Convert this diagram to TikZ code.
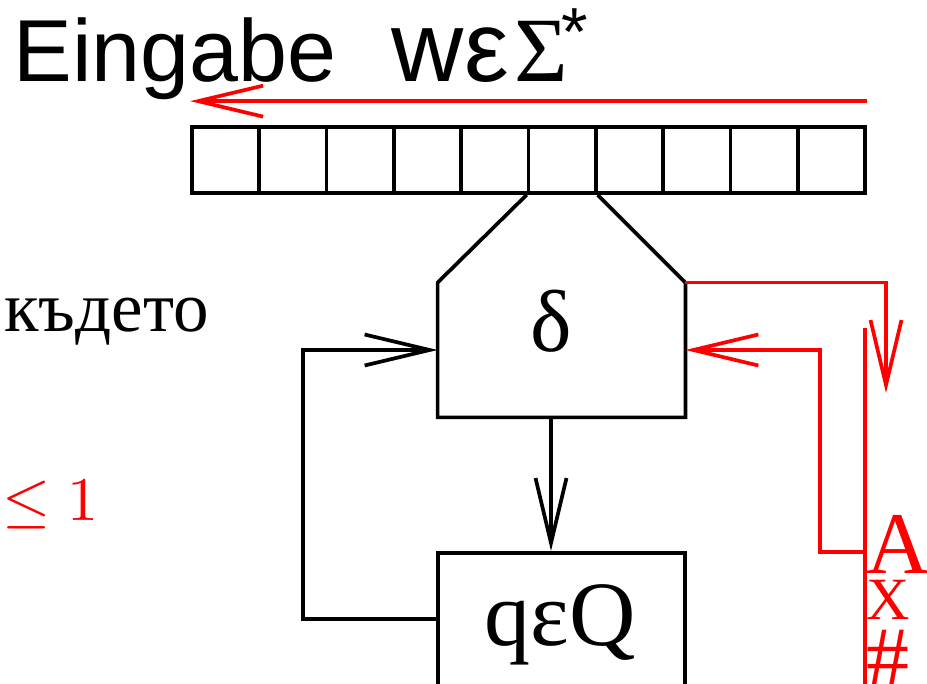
\documentclass[tikz,border=0pt]{standalone}
\usepackage{graphicx}
\usepackage{fontspec}
\setmainfont{Liberation Serif}
\newfontfamily\sansf{Liberation Sans}
\usetikzlibrary{arrows.meta}
\begin{document}
\begin{tikzpicture}[x=0.5pt,y=-0.5pt,
  ln/.style={line width=1.85pt},
  cell/.style={draw, line width=1.85pt, minimum width=33.65pt, minimum height=33pt, inner sep=0pt},
  barb/.style={-{Straight Barb[length=32.5pt,width=15.5pt]}},
  txt/.style={inner sep=0pt, anchor=base},
  ltxt/.style={inner sep=0pt, anchor=base west},
  ]
\useasboundingbox (0,0) rectangle (927,684);
\clip (0,0) rectangle (927,684);
% tape
\foreach \i in {1,...,10} \node[cell] (c\i) at ({192+67.3*(\i-0.5)},160) {};
% delta box
\node[minimum width=123.5pt, minimum height=67pt, inner sep=0pt] (delta) at (561.5,350) {};
\draw[ln, line join=miter] (c6.south west) -- (delta.north west) -- (delta.south west)
  -- (delta.south east) -- (delta.north east) -- (c6.south east);
\node[txt, font=\fontsize{44}{44}\selectfont] (dlab) at (551,352) {δ};
% state box
\node[draw, ln, minimum width=123.5pt, minimum height=100pt, anchor=north, inner sep=0pt] (qbox) at (561.5,551) {};
\node[txt, font=\fontsize{46}{46}\selectfont] (qlab) at (560,645) {qεQ};
% black connectors
\draw[ln, barb] (dlab |- delta.south) -- (dlab |- qbox.north);
\coordinate (fb) at (303,619);
\draw[ln, barb] (fb -| qbox.west) -- (fb) |- (delta.west);
% red parts
\draw[red, ln, barb] ([yshift=12pt]c10.north east) -- ([yshift=12pt]c1.north west);
\coordinate (rdn) at (886,393);
\draw[red, ln, barb] (delta.north east) -| (rdn);
\coordinate (rtop) at (865,328);
\coordinate (rbot) at (865,700);
\draw[red, ln] (rtop) -- (rbot);
\coordinate (rk) at (865,552);
\coordinate (rturn) at (820,552);
\draw[red, ln, barb] (rk) -- (rturn) |- (delta.east);
% texts
\node[ltxt, font=\sansf\fontsize{44}{44}\selectfont] (eing) at (13,82) {Eingabe};
\node[ltxt, font=\fontsize{46}{46}\selectfont] (wes) at (391,82) {{\sansf\fontsize{50}{50}\selectfont w\kern0.5pt ε}\kern2.5pt Σ\kern-3pt\raisebox{13pt}{\sansf\fontsize{34}{34}\selectfont *}};
\node[ltxt, font=\fontsize{35.5}{35.5}\selectfont] (kde) at (4,332) {където};
\node[ltxt, red] (le) at (2,520) {\scalebox{3.1}{$\leq 1$}};
\node[ltxt, red, font=\fontsize{44}{44}\selectfont] (sa) at (866,573) {A};
\node[ltxt, red, font=\fontsize{30}{30}\selectfont] (sx) at (866,619) {X};
\node[ltxt, red, font=\fontsize{43}{43}\selectfont] (sh) at (866,686) {\#};
\end{tikzpicture}
\end{document}
